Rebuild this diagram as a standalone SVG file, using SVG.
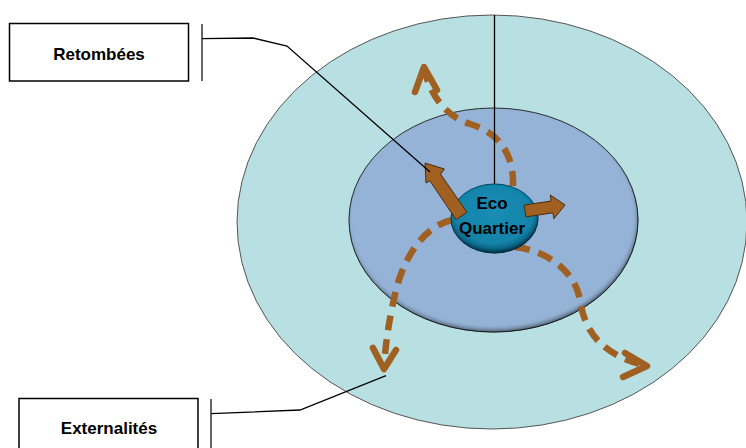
<svg xmlns="http://www.w3.org/2000/svg" width="746" height="448" viewBox="0 0 746 448">
<style>
.lbl{font-family:"Liberation Sans",Arial,sans-serif;font-weight:bold;font-size:17px;fill:#000;text-anchor:middle}
.box{fill:#fff;stroke:#000;stroke-width:1.5}
.conn{fill:none;stroke:#000;stroke-width:1.3}
.tick{fill:none;stroke:#333;stroke-width:1.5}
.dash{fill:none;stroke:#A06022;stroke-width:6.5;stroke-dasharray:15 9}
.head{fill:none;stroke:#A06022;stroke-width:6.5;stroke-linecap:round;stroke-linejoin:round}
.blk{fill:#A06022;stroke:#4a2c0c;stroke-width:1}
</style>
<defs>
<filter id="inset" x="-10%" y="-10%" width="120%" height="120%">
<feFlood flood-color="#000" flood-opacity="0.8"/>
<feComposite in2="SourceAlpha" operator="out"/>
<feOffset dx="-1" dy="-3"/>
<feGaussianBlur stdDeviation="2"/>
<feComposite in2="SourceAlpha" operator="in" result="sh"/>
<feMerge><feMergeNode in="SourceGraphic"/><feMergeNode in="sh"/></feMerge>
</filter>
<radialGradient id="eco" cx="0.5" cy="0.4" r="0.6">
<stop offset="0" stop-color="#1A8DB5"/>
<stop offset="0.75" stop-color="#1783A9"/>
<stop offset="1" stop-color="#0F5E7E"/>
</radialGradient>
</defs>
<g id="outer">
<ellipse cx="492" cy="222" rx="255" ry="207" fill="#B8E0E2" stroke="#555" stroke-width="1"/>
</g>
<g id="inner">
<ellipse cx="493.5" cy="220" rx="144.5" ry="112" fill="#95B3D7" stroke="#333" stroke-width="1" filter="url(#inset)"/>
</g>
<g id="flows">
<path class="dash" d="M513,186 C514,155 500,133 470,124 C450,118 432,100 425,72"/>
<polyline class="head" points="415,92 424,67 437,90"/>
<path class="dash" d="M452,220 C425,226 405,255 396,290 C389,320 386,340 384,366"/>
<polyline class="head" points="373,348 384,369 396,350"/>
<path class="dash" d="M515,247 C545,250 575,270 580,300 C585,335 605,355 643,365"/>
<polyline class="head" points="625,353 647,366 623,377"/>
</g>
<g id="ecoquartier">
<ellipse cx="494.5" cy="218.5" rx="43.5" ry="34.5" fill="url(#eco)" stroke="#0b4a63" stroke-width="1" filter="url(#inset)"/>
<text class="lbl" x="492" y="209">Eco</text>
<text class="lbl" x="492" y="234">Quartier</text>
</g>
<g id="arrows">
<polygon class="blk" points="466.9,212.3 440.6,174.2 444.4,169 425,163 426,183 429.9,180.8 456.1,219.7"/>
<polygon class="blk" points="524.1,205.1 551.2,201 550.3,195 565,205 553.9,218.8 553,212.8 525.9,216.9"/>
</g>
<g id="connectors">
<polyline class="conn" points="202,38.7 253,38 287,46 430,172"/>
<line class="conn" x1="494.5" y1="15" x2="494.5" y2="184"/>
<polyline class="conn" points="211,413.7 300,410 386,375.7"/>
<line class="tick" x1="202" y1="24" x2="202" y2="81"/>
<line class="tick" x1="211" y1="399" x2="211" y2="448"/>
</g>
<g id="retombees">
<rect class="box" x="9.5" y="23.5" width="179" height="57.5"/>
<text class="lbl" x="99" y="60">Retombées</text>
</g>
<g id="externalites">
<rect class="box" x="19" y="398.5" width="179" height="60"/>
<text class="lbl" x="109" y="434">Externalités</text>
</g>
</svg>
